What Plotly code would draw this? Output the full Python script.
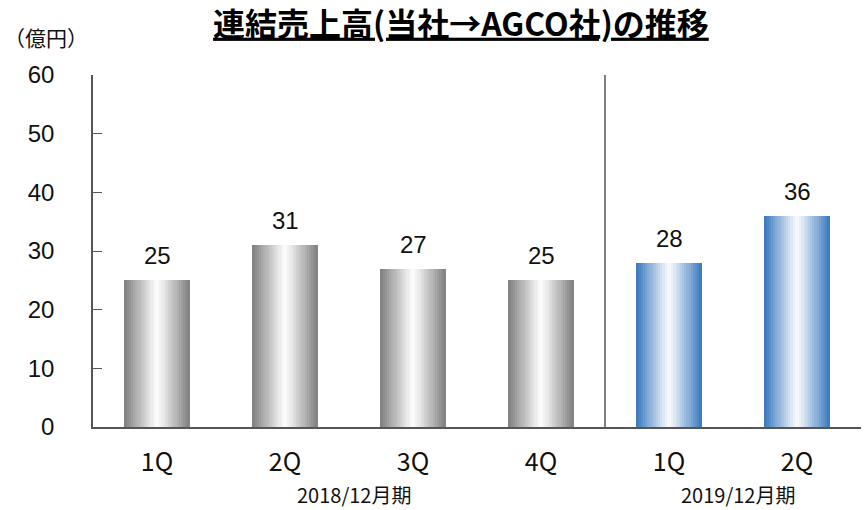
import plotly.graph_objects as go

# ---- data ----
quarters = ["1Q", "2Q", "3Q", "4Q", "1Q", "2Q"]
sales = [25, 31, 27, 25, 28, 36]
period_of_bar = ["2018", "2018", "2018", "2018", "2019", "2019"]
period_labels = ["2018/12月期", "2019/12月期"]
period_centers = [1.5, 4.5]
y_ticks = [0, 10, 20, 30, 40, 50, 60]

title_text = "連結売上高(当社→AGCO社)の推移"
unit_text = "（億円）"

# ---- style ----
edge_colors = {"2018": (128, 128, 128), "2019": (58, 122, 190)}
center_colors = {"2018": (250, 250, 250), "2019": (244, 248, 252)}
BAR_W = 0.51
N = 30

def mix(c1, c2, t):
    return "rgb(%d,%d,%d)" % tuple(round(a + (b - a) * t) for a, b in zip(c1, c2))

xs = list(range(len(quarters)))
fig = go.Figure()
for i in range(N):
    pos = (i + 0.5) / N  # 0..1 across the bar
    t = 1 - abs(pos - 0.5) * 2  # 1 at centre, 0 at edges
    t = min(1.0, t * 1.05)
    colors = [mix(edge_colors[p], center_colors[p], t) for p in period_of_bar]
    fig.add_trace(go.Bar(
        x=xs, y=sales, width=BAR_W / N + 0.002, offset=-BAR_W / 2 + i * BAR_W / N,
        marker=dict(color=colors, line=dict(width=0)),
        hoverinfo="skip", showlegend=False,
    ))

for x, v in zip(xs, sales):
    fig.add_annotation(x=x, y=v, xref="x", yref="y", text=str(v), showarrow=False,
                       yanchor="bottom", yshift=9,
                       font=dict(family="Liberation Sans, Arial", size=24, color="#111"))

fig.update_layout(
    width=868, height=510,
    margin=dict(l=93, r=7, t=75, b=83),
    paper_bgcolor="white", plot_bgcolor="white",
    barmode="overlay", bargap=0,
    showlegend=False,
    xaxis=dict(
        range=[-0.5, len(quarters) - 0.5],
        tickmode="array", tickvals=xs, ticktext=quarters,
        showline=True, linecolor="#555", linewidth=1.5,
        ticks="", showgrid=False, zeroline=False,
        tickfont=dict(family="Noto Sans CJK JP", size=25, color="#111"),
        ticklabelstandoff=12,
    ),
    yaxis=dict(
        range=[0, 60], tickmode="array", tickvals=y_ticks,
        showline=True, linecolor="#555", linewidth=1.5,
        ticks="inside", ticklen=9, tickcolor="#555", tickwidth=1,
        showgrid=False, zeroline=False,
        tickfont=dict(family="Liberation Sans, Arial", size=24, color="#111"),
        ticklabelstandoff=32,
    ),
    title=dict(
        text="<b>" + title_text + "</b>",
        x=0.531, xanchor="center", y=0.952, yanchor="middle",
        font=dict(family="Noto Sans CJK JP", size=32, color="#000", lineposition="under"),
    ),
)

# separator between fiscal years
fig.add_shape(type="line", xref="x", yref="paper", x0=3.5, x1=3.5, y0=0, y1=1,
              line=dict(color="#000", width=1))

for lab, cx in zip(period_labels, period_centers):
    fig.add_annotation(x=cx + 0.04, xref="x", y=-0.192, yref="paper", text=lab,
                       showarrow=False, yanchor="middle",
                       font=dict(family="Noto Sans CJK JP", size=20, color="#111"))

fig.add_annotation(xref="paper", yref="paper", x=-0.118, y=1.108,
                   xanchor="left", yanchor="middle", text=unit_text, showarrow=False,
                   font=dict(family="Noto Sans CJK JP", size=21, color="#111"))

fig.write_html("out.html")
